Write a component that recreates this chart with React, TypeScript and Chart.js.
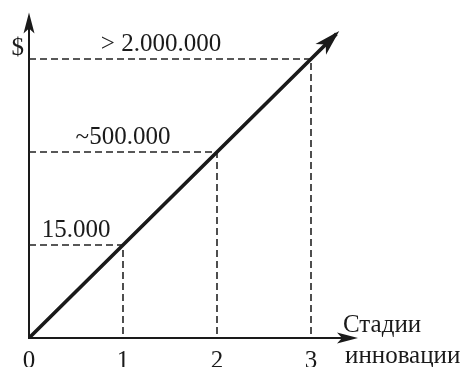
import React, { useEffect, useRef } from "react";
import { Chart, registerables } from "chart.js";

Chart.register(...registerables);

// ---- data ----
const stages = [0, 1, 2, 3];
const stageTickLabels = ["0", "1", "2", "3"];
const costLevels = [0, 1, 2, 3];
const costLabels = ["", "15.000", "~500.000", "> 2.000.000"];
const lineEnd = 3.27;
const xMax = 3.5;
const yMax = 3.5;
const yAxisTitle = "$";
const xAxisTitle = ["Стадии", "инновации"];

const INK = "#1a1a1a";
const FONT = '25px "Liberation Serif", "Times New Roman", serif';

function arrowHead(ctx: CanvasRenderingContext2D, tx: number, ty: number, ang: number, L: number, W: number, notch: number) {
  const dx = Math.cos(ang), dy = Math.sin(ang);
  const px = -dy, py = dx;
  ctx.beginPath();
  ctx.moveTo(tx, ty);
  ctx.lineTo(tx - L * dx + W * px, ty - L * dy + W * py);
  ctx.lineTo(tx - (L - notch) * dx, ty - (L - notch) * dy);
  ctx.lineTo(tx - L * dx - W * px, ty - L * dy - W * py);
  ctx.closePath();
  ctx.fill();
}

const decorPlugin = {
  id: "decor",
  beforeDatasetsDraw(chart: any) {
    const { ctx, scales } = chart;
    const xs = scales.x, ys = scales.y;
    const x0 = xs.getPixelForValue(0), y0 = ys.getPixelForValue(0);
    const xEnd = xs.getPixelForValue(xMax), yEnd = ys.getPixelForValue(yMax);
    ctx.save();
    ctx.strokeStyle = INK;
    ctx.fillStyle = INK;
    ctx.lineWidth = 2;
    ctx.beginPath();
    ctx.moveTo(x0, y0);
    ctx.lineTo(x0, yEnd + 10);
    ctx.moveTo(x0 - 1, y0);
    ctx.lineTo(xEnd - 10, y0);
    ctx.stroke();
    arrowHead(ctx, x0, yEnd, -Math.PI / 2, 21, 5.5, 5);
    arrowHead(ctx, xEnd, y0, 0, 21, 5.5, 5);
    ctx.restore();
  },
  afterDatasetsDraw(chart: any) {
    const { ctx, scales } = chart;
    const xs = scales.x, ys = scales.y;
    const x0 = xs.getPixelForValue(0), y0 = ys.getPixelForValue(0);
    ctx.save();
    ctx.fillStyle = INK;
    // main line arrow
    const ex = xs.getPixelForValue(lineEnd), ey = ys.getPixelForValue(lineEnd);
    const ang = Math.atan2(ey - y0, ex - x0);
    arrowHead(ctx, ex + 4 * Math.cos(ang), ey + 4 * Math.sin(ang), ang, 26, 7.5, 7);

    ctx.font = FONT;
    // value labels
    ctx.textAlign = "center";
    ctx.textBaseline = "alphabetic";
    costLevels.forEach((lv, i) => {
      if (!costLabels[i]) return;
      const px = xs.getPixelForValue(stages[i]);
      const py = ys.getPixelForValue(lv);
      let cx = (x0 + px) / 2;
      if (i === costLevels.length - 1) cx -= 9;
      ctx.fillText(costLabels[i], cx, py - 8.5);
    });
    // x tick labels
    stages.forEach((s, i) => {
      ctx.fillText(stageTickLabels[i], xs.getPixelForValue(s), y0 + 30);
    });
    // y title
    ctx.textAlign = "right";
    ctx.fillText(yAxisTitle, x0 - 5, ys.getPixelForValue(3) - 4);
    // x title
    ctx.textAlign = "left";
    const x3 = xs.getPixelForValue(3);
    ctx.fillText(xAxisTitle[0], x3 + 32, y0 - 6);
    ctx.fillText(xAxisTitle[1], x3 + 34, y0 + 25);
    ctx.restore();
  },
};

export default function App() {
  const ref = useRef<HTMLCanvasElement | null>(null);
  useEffect(() => {
    if (!ref.current) return;
    const mainData = [
      ...stages.map((s, i) => ({ x: s, y: costLevels[i] })),
      { x: lineEnd, y: lineEnd },
    ];
    const guideSets = stages
      .map((s, i) => ({ s, lv: costLevels[i] }))
      .filter((d) => d.s > 0)
      .map((d) => ({
        data: [
          { x: 0, y: d.lv },
          { x: d.s, y: d.lv },
          { x: d.s, y: 0 },
        ],
        showLine: true,
        borderColor: "#222",
        borderWidth: 1.6,
        borderDash: [7, 4],
        pointRadius: 0,
        fill: false,
      }));
    const chart = new Chart(ref.current, {
      type: "scatter",
      data: {
        datasets: [
          {
            data: mainData,
            showLine: true,
            borderColor: INK,
            borderWidth: 3.6,
            pointRadius: 0,
            fill: false,
          },
          ...guideSets,
        ] as any,
      },
      options: {
        animation: false,
        responsive: false,
        devicePixelRatio: 1,
        layout: { padding: { left: 29, right: 107, top: 12.5, bottom: 29 } },
        plugins: { legend: { display: false }, tooltip: { enabled: false } },
        scales: {
          x: { type: "linear", min: 0, max: xMax, display: false },
          y: { type: "linear", min: 0, max: yMax, display: false },
        },
      } as any,
      plugins: [decorPlugin],
    });
    return () => chart.destroy();
  }, []);
  return (
    <div style={{ position: "absolute", left: 0, top: 0, width: 465, height: 367, background: "#fff" }}>
      <canvas ref={ref} width={465} height={367} style={{ display: "block" }} />
    </div>
  );
}
